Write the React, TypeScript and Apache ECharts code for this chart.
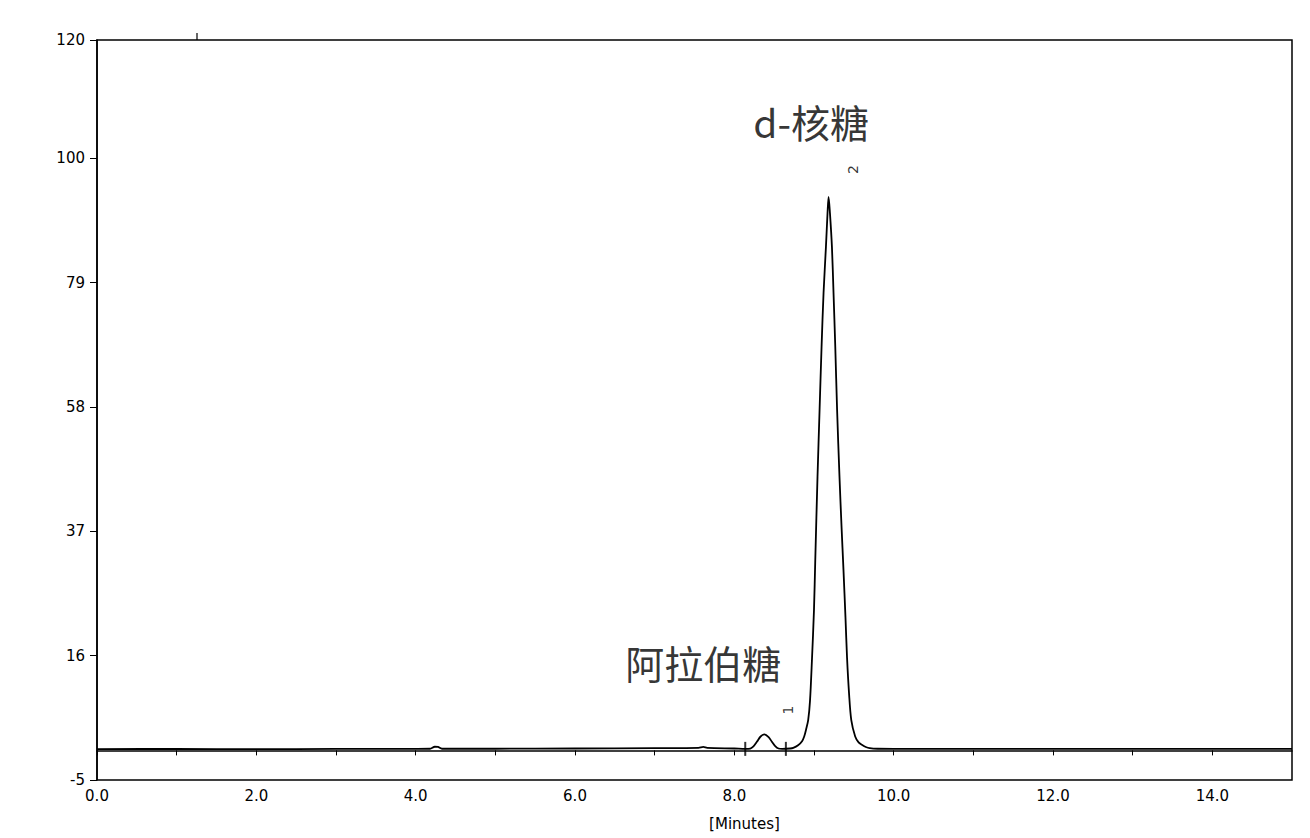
import React, { useEffect, useRef } from "react";
import * as echarts from "echarts";

// Axis ticks and labels
const xTickValues = [0, 1, 2, 3, 4, 5, 6, 7, 8, 9, 10, 11, 12, 13, 14];
const xLabelValues = [0, 2, 4, 6, 8, 10, 12, 14];
const yLabelValues = [-5, 16, 37, 58, 79, 100, 120];

// Chromatogram signal (time in minutes, response)
const signalTimes = [
  0, 1, 2, 3, 4, 4.18, 4.24, 4.28, 4.33, 5, 6, 7, 7.55, 7.61, 7.66, 8.0,
  8.137, 8.2, 8.24, 8.283, 8.33, 8.379, 8.43, 8.472, 8.51, 8.555, 8.6,
  8.7, 8.74, 8.8, 8.85, 8.877, 8.9, 8.927, 8.95, 8.974, 9.0, 9.016, 9.044,
  9.07, 9.095, 9.12, 9.15, 9.17, 9.183, 9.2, 9.225, 9.245, 9.267, 9.29,
  9.32, 9.345, 9.37, 9.395, 9.415, 9.44, 9.468, 9.517, 9.56, 9.605, 9.65,
  9.7, 9.8, 10, 11, 12, 13, 14, 15,
];
const signalValues = [
  0.2, 0.25, 0.2, 0.25, 0.26, 0.28, 0.62, 0.58, 0.28, 0.28, 0.32, 0.38, 0.42, 0.58, 0.42, 0.32,
  0.26, 0.32, 0.68, 1.45, 2.35, 2.72, 2.25, 1.45, 0.78, 0.32, 0.26,
  0.32, 0.42, 0.86, 1.55, 2.35, 3.5, 5.1, 8.4, 15.2, 23.8, 32.2, 46.2,
  57.5, 68.2, 77.3, 85.1, 90.8, 93.5, 90.8, 85.1, 77.3, 68.2, 57.5,
  46.2, 38.0, 30.5, 22.5, 15.6, 9.6, 5.1, 2.35, 1.35, 0.92, 0.58,
  0.38, 0.28, 0.26, 0.26, 0.25, 0.25, 0.25, 0.25,
];

// Integration start/end marks around peak 1
const integrationMarkTimes = [8.137, 8.647];
const integrationMarkValues = [0.26, 0.26];

// Peak numbers
const peakNumbers = ["1", "2"];
const peakNumberTimes = [8.676, 9.486];
const peakNumberValues = [6.8, 98.1];

// Compound annotations
const compoundNames = ["d-核糖", "阿拉伯糖"];
const compoundTimes = [8.965, 7.61];
const compoundValues = [106.4, 15.0];

const AXIS_FONT = "'DejaVu Sans', 'Liberation Sans', sans-serif";

export default function App() {
  const ref = useRef<HTMLDivElement>(null);

  useEffect(() => {
    if (!ref.current) return;
    const chart = echarts.init(ref.current, null, { renderer: "svg" });

    const signal = signalTimes.map((t, i) => [t, signalValues[i]]);
    const marks = integrationMarkTimes.map((t, i) => [t, integrationMarkValues[i]]);
    const numbers = peakNumberTimes.map((t, i) => ({
      value: [t, peakNumberValues[i]],
      name: peakNumbers[i],
    }));
    const names = compoundTimes.map((t, i) => ({
      value: [t, compoundValues[i]],
      name: compoundNames[i],
    }));

    chart.setOption({
      animation: false,
      backgroundColor: "#ffffff",
      grid: {
        left: 97,
        right: 18,
        top: 40,
        bottom: 58,
        show: true,
        borderColor: "#000",
        borderWidth: 1.5,
        backgroundColor: "transparent",
      },
      xAxis: {
        type: "value",
        min: 0,
        max: 15,
        name: "[Minutes]",
        nameLocation: "middle",
        nameGap: 36,
        nameTextStyle: {
          color: "#000",
          fontSize: 15,
          fontFamily: AXIS_FONT,
          padding: [0, 0, 0, 100],
        },
        axisLine: { show: true, lineStyle: { color: "#000", width: 1.5 } },
        axisTick: {
          show: true,
          length: 5,
          customValues: xTickValues,
          lineStyle: { color: "#000", width: 1 },
        },
        axisLabel: {
          customValues: xLabelValues,
          margin: 8,
          color: "#000",
          fontSize: 15,
          fontFamily: AXIS_FONT,
          formatter: (v: number) => v.toFixed(1),
        },
        splitLine: { show: false },
      },
      yAxis: {
        type: "value",
        min: -5,
        max: 120,
        axisLine: { show: true, lineStyle: { color: "#000", width: 1.5 } },
        axisTick: {
          show: true,
          length: 7,
          customValues: yLabelValues,
          lineStyle: { color: "#000", width: 1 },
        },
        axisLabel: {
          customValues: yLabelValues,
          margin: 12,
          color: "#000",
          fontSize: 15,
          fontFamily: AXIS_FONT,
        },
        splitLine: { show: false },
      },
      graphic: [
        {
          type: "line",
          shape: { x1: 197, y1: 33, x2: 197, y2: 40 },
          style: { stroke: "#000", lineWidth: 1.2 },
        },
      ],
      series: [
        {
          type: "line",
          data: signal,
          showSymbol: false,
          smooth: 0.3,
          lineStyle: { color: "#000", width: 1.8 },
          z: 3,
        },
        {
          type: "scatter",
          data: marks,
          symbol: "rect",
          symbolSize: [2, 14],
          itemStyle: { color: "#000" },
          z: 4,
        },
        {
          type: "scatter",
          data: numbers,
          symbolSize: 0,
          label: {
            show: true,
            position: "inside",
            rotate: 90,
            formatter: "{b}",
            color: "#000",
            fontSize: 14,
            fontFamily: AXIS_FONT,
          },
          z: 5,
        },
        {
          type: "scatter",
          data: names,
          symbolSize: 0,
          label: {
            show: true,
            position: "inside",
            formatter: "{b}",
            color: "#000",
            fontSize: 39,
            fontFamily: "'Noto Sans CJK SC', 'Noto Sans', sans-serif",
          },
          z: 5,
        },
      ],
    });

    return () => chart.dispose();
  }, []);

  return (
    <div
      ref={ref}
      style={{ position: "fixed", left: 0, top: 0, width: 1310, height: 838, background: "#fff" }}
    />
  );
}
